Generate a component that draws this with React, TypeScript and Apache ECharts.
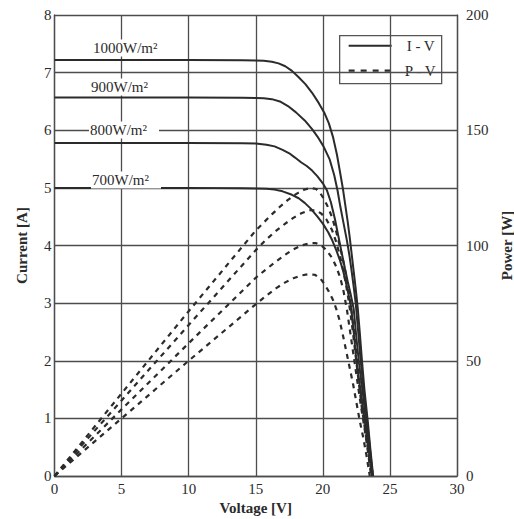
import React, { useEffect, useRef } from "react";
import * as echarts from "echarts";

// I-V curves: [voltage V, current A]
const iv1000: [number, number][] = [
  [0, 7.22], [5, 7.22], [10, 7.22], [14, 7.215], [15, 7.21], [15.6, 7.205], [16.2, 7.19], [16.7, 7.16],
  [17.2, 7.11], [17.7, 7.03], [18.2, 6.92], [18.7, 6.8], [19.2, 6.65], [19.7, 6.47], [20.1, 6.31],
  [20.45, 6.12], [20.75, 5.89], [21.05, 5.58], [21.3, 5.25], [21.5, 4.98], [21.65, 4.74], [21.85, 4.42],
  [22.0, 4.15], [22.15, 3.85], [22.3, 3.55], [22.45, 3.25], [22.6, 2.92], [22.75, 2.5], [22.9, 2.05],
  [23.1, 1.5], [23.35, 0.95], [23.55, 0.45], [23.75, 0],
];
const iv900: [number, number][] = [
  [0, 6.57], [5, 6.57], [10, 6.57], [14, 6.565], [15, 6.56], [15.6, 6.555], [16.2, 6.54], [16.8, 6.5],
  [17.4, 6.42], [18.0, 6.31], [18.65, 6.17], [19.2, 6.02], [19.6, 5.89], [20.05, 5.72], [20.5, 5.5],
  [20.85, 5.22], [21.1, 4.95], [21.3, 4.68], [21.55, 4.38], [21.8, 4.08], [22.0, 3.8], [22.15, 3.55],
  [22.3, 3.28], [22.45, 3.0], [22.6, 2.6], [22.8, 2.05], [23.0, 1.6], [23.25, 1.05], [23.5, 0.5],
  [23.72, 0],
];
const iv800: [number, number][] = [
  [0, 5.78], [5, 5.78], [10, 5.78], [14, 5.775], [15, 5.77], [15.8, 5.75], [16.4, 5.72], [17.0, 5.66],
  [17.5, 5.6], [17.9, 5.53], [18.4, 5.44], [18.8, 5.38], [19.2, 5.3], [19.6, 5.2], [20.0, 5.08],
  [20.3, 4.96], [20.6, 4.75], [20.9, 4.46], [21.15, 4.17], [21.4, 3.88], [21.65, 3.6], [21.85, 3.38],
  [22.05, 3.18], [22.3, 2.9], [22.5, 2.4], [22.7, 1.95], [22.95, 1.5], [23.2, 1.0], [23.45, 0.5],
  [23.68, 0],
];
const iv700: [number, number][] = [
  [0, 5.0], [5, 5.0], [10, 5.0], [14, 4.995], [15, 4.99], [15.8, 4.985], [16.4, 4.97], [17.0, 4.94],
  [17.7, 4.88], [18.2, 4.82], [18.65, 4.74], [19.1, 4.64], [19.6, 4.5], [20.0, 4.38], [20.4, 4.23],
  [20.7, 4.09], [21.0, 3.92], [21.25, 3.76], [21.5, 3.57], [21.7, 3.38], [21.85, 3.22], [22.1, 2.95],
  [22.3, 2.5], [22.5, 2.0], [22.8, 1.5], [23.1, 1.0], [23.4, 0.5], [23.65, 0],
];

// P-V curves: [voltage V, power W]
const pv1000: [number, number][] = [
  [0, 0], [5, 35.8], [10, 71.5], [15, 106.5], [15.6, 110], [16.2, 113.5], [16.8, 116.8], [17.4, 119.8],
  [18.0, 122.3], [18.6, 124.2], [19.1, 125], [19.5, 124.5], [19.8, 122.8], [20.1, 120], [20.4, 116.5],
  [20.7, 112], [21.0, 106], [21.3, 99], [21.6, 91], [21.85, 83], [22.1, 73], [22.3, 64], [22.5, 54],
  [22.7, 43], [22.95, 30], [23.2, 19], [23.5, 8], [23.75, 0],
];
const pv900: [number, number][] = [
  [0, 0], [5, 32.8], [10, 65.5], [15, 98], [15.8, 102.7], [16.5, 106.3], [17.2, 109.5], [17.8, 112],
  [18.4, 114], [19.0, 115.3], [19.5, 115.2], [19.9, 113.8], [20.3, 111], [20.7, 106.5], [21.0, 101.5],
  [21.3, 95], [21.6, 87], [21.85, 79], [22.05, 71], [22.25, 62], [22.45, 52], [22.65, 42], [22.9, 30],
  [23.2, 18], [23.45, 8], [23.7, 0],
];
const pv800: [number, number][] = [
  [0, 0], [5, 28.9], [10, 57.6], [15, 86], [15.8, 89.8], [16.5, 93], [17.2, 96], [17.8, 98.3],
  [18.4, 100], [19.0, 101], [19.5, 101], [19.9, 100], [20.3, 97.8], [20.7, 94.5], [21.0, 90.8],
  [21.3, 86], [21.55, 80], [21.8, 72], [22.0, 64], [22.2, 56], [22.4, 48], [22.6, 40], [22.85, 30],
  [23.1, 21], [23.35, 11], [23.6, 0],
];
const pv700: [number, number][] = [
  [0, 0], [5, 25], [10, 50], [15, 74.5], [15.8, 78.3], [16.5, 81.4], [17.2, 84], [17.8, 85.8],
  [18.4, 87], [18.9, 87.5], [19.4, 87.3], [19.8, 85.8], [20.15, 83], [20.45, 80], [20.75, 76.5],
  [21.0, 72.5], [21.25, 67.5], [21.5, 61], [21.75, 54], [22.0, 47], [22.25, 40], [22.5, 32],
  [22.75, 24], [23.0, 17], [23.25, 9], [23.5, 0],
];

const ivCurves = [iv1000, iv900, iv800, iv700];
const pvCurves = [pv1000, pv900, pv800, pv700];
const irradianceLabels = ["1000W/m²", "900W/m²", "800W/m²", "700W/m²"];
const legendNames = ["I - V", "P - V"];

const FONT = "'Liberation Serif', 'Times New Roman', serif";
const INK = "#2b2b2b";
const GRID = "#4d4d4d";
const DASH = [5, 5];

export default function App() {
  const ref = useRef<HTMLDivElement>(null);

  useEffect(() => {
    document.documentElement.style.overflow = "hidden";
    document.body.style.margin = "0";
    document.body.style.overflow = "hidden";
    if (!ref.current) return;
    const chart = echarts.init(ref.current, undefined, { renderer: "svg", width: 514, height: 519 });

    const labelPos = [
      [92, 48],
      [90, 87],
      [89, 130],
      [91, 180],
    ];

    const series: any[] = [];
    ivCurves.forEach((d) => {
      series.push({
        name: legendNames[0],
        type: "line",
        yAxisIndex: 0,
        data: d,
        symbol: "none",
        smooth: false,
        itemStyle: { color: INK },
        lineStyle: { color: INK, width: 2 },
        z: 3,
      });
    });
    pvCurves.forEach((d) => {
      series.push({
        name: legendNames[1],
        type: "line",
        yAxisIndex: 1,
        data: d,
        symbol: "none",
        smooth: false,
        itemStyle: { color: INK },
        lineStyle: { color: INK, width: 2.2, type: DASH },
        z: 3,
      });
    });

    // legend box drawn as graphic elements
    const legendBox = {
      type: "group",
      left: 339,
      top: 35,
      z: 10,
      children: [
        {
          type: "rect",
          shape: { x: 0, y: 0, width: 102, height: 48 },
          style: { fill: "#fff", stroke: "#555", lineWidth: 1.3 },
        },
        {
          type: "line",
          shape: { x1: 9, y1: 10, x2: 52, y2: 10 },
          style: { stroke: INK, lineWidth: 2 },
        },
        {
          type: "text",
          x: 67,
          y: 10,
          style: { text: legendNames[0], font: `15px ${FONT}`, fill: INK, verticalAlign: "middle", align: "left" },
        },
        {
          type: "line",
          shape: { x1: 9, y1: 35, x2: 52, y2: 35 },
          style: { stroke: INK, lineWidth: 2.2, lineDash: [6, 6] },
        },
        {
          type: "text",
          x: 65,
          y: 35,
          style: { text: legendNames[1], font: `15px ${FONT}`, fill: INK, verticalAlign: "middle", align: "left" },
        },
      ],
    };

    chart.setOption({
      animation: false,
      backgroundColor: "#fff",
      textStyle: { fontFamily: FONT },
      grid: { left: 54.5, right: 57, top: 15, bottom: 43, containLabel: false, outerBoundsMode: "none" },
      legend: { show: false, data: legendNames },
      xAxis: {
        type: "value",
        min: 0,
        max: 30,
        interval: 5,
        name: "Voltage [V]",
        nameLocation: "middle",
        nameGap: 23,
        nameTextStyle: { fontFamily: FONT, fontSize: 15, fontWeight: "bold", color: INK },
        axisLine: { show: true, lineStyle: { color: GRID, width: 1.3 } },
        axisTick: { show: false },
        axisLabel: { fontFamily: FONT, fontSize: 15, color: INK, margin: 5 },
        splitLine: { show: true, lineStyle: { color: GRID, width: 1.3 } },
      },
      yAxis: [
        {
          type: "value",
          min: 0,
          max: 8,
          interval: 1,
          name: "Current [A]",
          nameLocation: "middle",
          nameGap: 25,
          nameTextStyle: { fontFamily: FONT, fontSize: 15, fontWeight: "bold", color: INK },
          axisLine: { show: true, lineStyle: { color: GRID, width: 1.3 } },
          axisTick: { show: false },
          axisLabel: { fontFamily: FONT, fontSize: 15, color: INK, margin: 3 },
          splitLine: { show: true, lineStyle: { color: GRID, width: 1.3 } },
        },
        {
          type: "value",
          min: 0,
          max: 200,
          interval: 50,
          position: "right",
          name: "Power [W]",
          nameLocation: "middle",
          nameGap: 42,
          nameRotate: 90,
          nameTextStyle: { fontFamily: FONT, fontSize: 15, fontWeight: "bold", color: INK },
          axisLine: { show: true, lineStyle: { color: GRID, width: 1.3 } },
          axisTick: { show: false },
          axisLabel: { fontFamily: FONT, fontSize: 15, color: INK, margin: 9 },
          splitLine: { show: false },
        },
      ],
      graphic: [
        ...irradianceLabels.map((t, i) => ({
          type: "text",
          x: labelPos[i][0],
          y: labelPos[i][1],
          z: 5,
          style: {
            text: t,
            font: `15px ${FONT}`,
            fill: INK,
            verticalAlign: "middle",
            align: "left",
            backgroundColor: "#fff",
            padding: [1, 12, 1, 1],
          },
        })),
        legendBox,
      ],
      series,
    });

    return () => chart.dispose();
  }, []);

  return (
    <div
      ref={ref}
      style={{ position: "fixed", left: 0, top: 0, width: 514, height: 519, background: "#fff" }}
    />
  );
}
